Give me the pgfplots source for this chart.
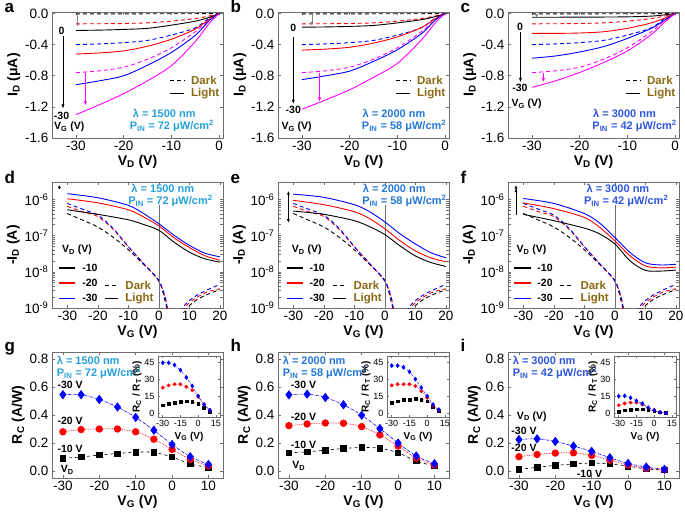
\documentclass[border=0pt]{standalone}
\usepackage{fontspec}
\setmainfont{Liberation Sans}
\usepackage{pgfplots}
\usepackage{pgfplotstable}
\pgfplotsset{compat=1.18}
\usetikzlibrary{arrows.meta}

\definecolor{lamA}{RGB}{38,160,218}
\definecolor{lamB}{RGB}{35,120,215}
\definecolor{lamC}{RGB}{45,85,220}
\definecolor{gold}{RGB}{139,105,20}
\definecolor{frame}{RGB}{110,110,110}
\definecolor{magen}{RGB}{255,0,255}

% ---------- data ----------
\pgfplotstableread{
V k r b m
-30 -0.004 -0.132 -0.400 -0.760
-25 -0.004 -0.131 -0.390 -0.736
-20 -0.004 -0.128 -0.374 -0.690
-15 -0.003 -0.119 -0.345 -0.587
-10 -0.003 -0.098 -0.277 -0.440
-5 -0.002 -0.064 -0.183 -0.234
-2 -0.001 -0.030 -0.055 -0.077
0 0 0 0 0
}\darkout
\pgfplotstableread{
V k r b m
-30 -0.217 -0.520 -0.915 -1.300
-25 -0.213 -0.506 -0.864 -1.170
-20 -0.204 -0.480 -0.800 -1.030
-15 -0.190 -0.420 -0.664 -0.864
-10 -0.149 -0.330 -0.500 -0.670
-5 -0.098 -0.200 -0.280 -0.360
-2 -0.047 -0.070 -0.085 -0.120
0 0 0 0 0
}\lightA
\pgfplotstableread{
V k r b m
-30 -0.175 -0.470 -0.850 -1.230
-25 -0.172 -0.457 -0.800 -1.110
-20 -0.165 -0.433 -0.740 -0.980
-15 -0.153 -0.380 -0.615 -0.820
-10 -0.120 -0.300 -0.465 -0.640
-5 -0.079 -0.180 -0.260 -0.340
-2 -0.038 -0.063 -0.079 -0.114
0 0 0 0 0
}\lightB
\pgfplotstableread{
V k r b m
-30 -0.047 -0.255 -0.574 -0.950
-25 -0.047 -0.255 -0.545 -0.864
-20 -0.046 -0.250 -0.494 -0.757
-15 -0.045 -0.234 -0.425 -0.630
-10 -0.042 -0.190 -0.320 -0.480
-5 -0.033 -0.120 -0.190 -0.270
-2 -0.015 -0.055 -0.077 -0.100
0 0 0 0 0
}\lightC
\pgfplotstableread{
V k r b
-30 4.1e-7 6.5e-7 7.8e-7
-25 2.7e-7 4.6e-7 5.4e-7
-20 1.74e-7 3.4e-7 3.7e-7
-15 9.1e-8 1.5e-7 1.6e-7
-10 4.1e-8 4.9e-8 5.0e-8
-5 1.6e-8 1.7e-8 1.7e-8
0 5.8e-9 5.5e-9 5.6e-9
2 1.6e-9 2.0e-9 2.1e-9
3 7e-10 8e-10 8e-10
4 4e-10 5e-10 5e-10
}\darktr
\pgfplotstableread{
V k r b
-30 5.2e-7 1.05e-6 1.45e-6
-20 3.9e-7 8.1e-7 1.12e-6
-10 2.75e-7 5.2e-7 6.9e-7
-5 2.04e-7 3.3e-7 4.1e-7
0 1.41e-7 1.86e-7 2.14e-7
5 6.6e-8 8.7e-8 1.02e-7
10 3.5e-8 4.7e-8 5.4e-8
15 2.3e-8 2.8e-8 3.3e-8
20 1.86e-8 2.1e-8 2.6e-8
}\trD
\pgfplotstableread{
V k r b
-30 4.8e-7 9.5e-7 1.41e-6
-20 3.9e-7 7.2e-7 1.15e-6
-10 2.6e-7 4.6e-7 7.2e-7
-5 1.78e-7 2.95e-7 4.6e-7
0 1.07e-7 1.55e-7 2.4e-7
5 5.2e-8 7.2e-8 1.12e-7
10 2.75e-8 3.8e-8 5.9e-8
15 1.82e-8 2.45e-8 3.4e-8
20 1.41e-8 1.9e-8 2.45e-8
}\trE
\pgfplotstableread{
V k r b
-30 3.9e-7 8.1e-7 1.07e-6
-20 2.6e-7 5.6e-7 7.8e-7
-10 1.62e-7 3.2e-7 4.1e-7
-5 1.12e-7 1.7e-7 2.24e-7
0 5.9e-8 7.2e-8 8.9e-8
5 2.0e-8 2.75e-8 3.4e-8
10 1.1e-8 1.45e-8 1.78e-8
15 1.05e-8 1.29e-8 1.55e-8
20 1.12e-8 1.35e-8 1.62e-8
}\trF
\pgfplotstableread{
V k r b
-30 0.090 0.280 0.545
-25 0.100 0.296 0.545
-20 0.114 0.300 0.511
-15 0.125 0.300 0.457
-10 0.135 0.280 0.383
-5 0.133 0.227 0.291
0 0.100 0.154 0.189
5 0.050 0.083 0.102
10 0.026 0.036 0.047
}\rcG
\pgfplotstableread{
V k r b
-30 0.130 0.324 0.544
-25 0.137 0.336 0.549
-20 0.149 0.343 0.525
-15 0.161 0.341 0.473
-10 0.168 0.317 0.398
-5 0.163 0.258 0.303
0 0.130 0.178 0.200
5 0.071 0.092 0.107
10 0.036 0.043 0.052
}\rcH
\pgfplotstableread{
V k r b
-30 0.012 0.102 0.225
-25 0.026 0.118 0.230
-20 0.040 0.128 0.211
-15 0.050 0.130 0.178
-10 0.057 0.111 0.140
-5 0.050 0.078 0.095
0 0.035 0.043 0.054
5 0.014 0.019 0.028
10 0.007 0.010 0.012
}\rcI
\pgfplotstableread{
V k r b
-30 7.5 23 45
-25 8.5 25 45
-20 9.5 26 43
-15 10.5 26 38.5
-10 11 23.7 32
-5 10.5 20.7 24.5
0 9 14.8 15.6
5 5 8.3 8
10 2 3 3
}\inG
\pgfplotstableread{
V k r b
-30 9.5 25 42.5
-25 11 26 42.5
-20 12 26 41
-15 12.5 26 37
-10 13 24.5 30.5
-5 12.5 20 23
0 11 14 15.5
5 6 7 8
10 2.5 3 3.5
}\inH
\pgfplotstableread{
V k r b
-30 2 7.4 15.4
-25 3 8.9 15.7
-20 3.6 9.8 14
-15 3.9 9.8 11.3
-10 3.9 8 8.9
-5 3.3 5 5.3
0 2.4 3 3
5 1.2 1.2 1.2
10 0.6 0.6 0.6
}\inI

% ---------- styles ----------
\tikzset{
  ann/.style={font=\bfseries\fontsize{10.5}{11}\selectfont},
  lam/.style={font=\bfseries\fontsize{11}{12}\selectfont, inner sep=1pt},
  lg/.style={font=\bfseries\fontsize{11.5}{12}\selectfont, text=gold, anchor=west},
  pl/.style={font=\bfseries\fontsize{17}{18}\selectfont, anchor=base west},
}
\pgfplotsset{
  base/.style={scale only axis, axis line style={frame, line width=0.8pt},
    tick style={frame, line width=0.6pt}, major tick length=3pt,
    tick label style={font=\fontsize{13.5}{14}\selectfont},
    label style={font=\bfseries\fontsize{14}{15}\selectfont},
    /pgf/number format/assume math mode=true, anchor=south west},
  rowA/.style={base, width=171pt, height=126pt, xmin=-35, xmax=0.8, ymin=-1.6, ymax=0.02,
    xtick={-30,-20,-10,0}, ytick={-1.6,-1.2,-0.8,-0.4,0},
    yticklabel style={/pgf/number format/fixed, /pgf/number format/fixed zerofill, /pgf/number format/precision=1},
    xlabel={V\textsubscript{D} (V)}, ylabel={I\textsubscript{D} (μA)},
    xlabel style={yshift=3pt}, ylabel style={yshift=-2pt}},
  rowB/.style={base, width=171pt, height=126pt, xmin=-35, xmax=21, ymin=1e-9, ymax=3.05e-6,
    xtick={-30,-20,-10,0,10,20}, ytick={1e-9,1e-8,1e-7,1e-6},
    yticklabels={10\textsuperscript{-9},10\textsuperscript{-8},10\textsuperscript{-7},10\textsuperscript{-6}},
    xlabel={V\textsubscript{G} (V)}, ylabel={-I\textsubscript{D} (A)},
    xlabel style={yshift=3pt}, ylabel style={yshift=-2pt}},
  rowC/.style={base, width=171pt, height=126pt, xmin=-33, xmax=14, ymin=-0.05, ymax=0.85,
    xtick={-30,-20,-10,0,10}, ytick={0,0.2,0.4,0.6,0.8},
    yticklabel style={/pgf/number format/fixed, /pgf/number format/fixed zerofill, /pgf/number format/precision=1},
    xlabel={V\textsubscript{G} (V)}, ylabel={R\textsubscript{C} (A/W)},
    xlabel style={yshift=3pt}, ylabel style={yshift=-2pt}},
  inset/.style={base, width=62pt, height=61pt, xmin=-34, xmax=18.5, ymin=-3, ymax=51,
    xtick={-30,-15,0,15}, ytick={0,15,30,45},
    tick label style={font=\fontsize{9}{9}\selectfont}, major tick length=2pt,
    label style={font=\bfseries\fontsize{10}{10}\selectfont},
    xlabel={V\textsubscript{G} (V)}, ylabel={R\textsubscript{C} / R\textsubscript{T} (\%)},
    xlabel style={yshift=2pt}, ylabel style={yshift=-4pt},
    axis background/.style={fill=white}},
  dk/.style={line width=0.9pt, dash pattern=on 4pt off 3pt, smooth},
  lt/.style={line width=0.9pt, smooth},
  mB/.style={blue, densely dashdotted, line width=0.6pt, smooth, mark=diamond*, mark options={solid}},
  mR/.style={red, densely dotted, line width=0.7pt, smooth, mark=*, mark options={solid}},
  mK/.style={black, dashed, line width=0.6pt, smooth, mark=square*, mark options={solid}},
}

\newcommand{\outputplots}[1]{%
  \addplot[black, dk] table[x=V,y=k]{\darkout};
  \addplot[red, dk] table[x=V,y=r]{\darkout};
  \addplot[blue, dk] table[x=V,y=b]{\darkout};
  \addplot[magen, dk] table[x=V,y=m]{\darkout};
  \addplot[black, lt] table[x=V,y=k]{#1};
  \addplot[red, lt] table[x=V,y=r]{#1};
  \addplot[blue, lt] table[x=V,y=b]{#1};
  \addplot[magen, lt] table[x=V,y=m]{#1};
  \draw[black, dash pattern=on 4pt off 3pt, line width=1pt] (axis cs:-10.3,-0.864) -- (axis cs:-7.3,-0.864);
  \draw[black, line width=1pt] (axis cs:-10.3,-1.033) -- (axis cs:-7.3,-1.033);
  \node[lg] at (axis cs:-6.6,-0.864) {Dark};
  \node[lg] at (axis cs:-6.6,-1.033) {Light};
}
\newcommand{\darktransfer}{%
  \addplot[black, dk] table[x=V,y=k]{\darktr};
  \addplot[red, dk] table[x=V,y=r]{\darktr};
  \addplot[blue, dk] table[x=V,y=b]{\darktr};
  \addplot[black, dk] coordinates {(8,5e-10)(9.3,1e-9)(12,1.6e-9)(14,2.0e-9)(17,2.6e-9)(20,3.2e-9)};
  \addplot[red, dk] coordinates {(7.5,5e-10)(8.5,1e-9)(10,1.4e-9)(13,2.1e-9)(16,2.8e-9)(20,3.4e-9)};
  \addplot[blue, dk] coordinates {(7,5e-10)(7.8,1e-9)(10,1.6e-9)(13,2.4e-9)(16,3.2e-9)(20,4.5e-9)};
  \draw[frame, line width=0.7pt] (axis cs:0,1e-9) -- (axis cs:0,7e-7);
}
\newcommand{\lighttransfer}[1]{%
  \addplot[black, lt] table[x=V,y=k]{#1};
  \addplot[red, lt] table[x=V,y=r]{#1};
  \addplot[blue, lt] table[x=V,y=b]{#1};
}
\newcommand{\trlegend}[7]{%
  \node[ann] at (axis cs:#1,4.1e-8) {V\textsubscript{D} (V)};
  \draw[black, line width=1.5pt] (axis cs:#2,1.26e-8) -- (axis cs:#3,1.26e-8);
  \draw[red, line width=1.5pt] (axis cs:#2,4.9e-9) -- (axis cs:#3,4.9e-9);
  \draw[blue, line width=1.5pt] (axis cs:#2,1.86e-9) -- (axis cs:#3,1.86e-9);
  \node[ann, anchor=west] at (axis cs:#4,1.26e-8) {-10};
  \node[ann, anchor=west] at (axis cs:#4,4.9e-9) {-20};
  \node[ann, anchor=west] at (axis cs:#4,1.86e-9) {-30};
  \draw[black, dash pattern=on 4pt off 3pt, line width=1pt] (axis cs:#5,4.2e-9) -- (axis cs:#6,4.2e-9);
  \draw[black, line width=1pt] (axis cs:#5,1.86e-9) -- (axis cs:#6,1.86e-9);
  \node[lg] at (axis cs:#7,4.2e-9) {Dark};
  \node[lg] at (axis cs:#7,1.86e-9) {Light};
}
\newcommand{\rcplots}[1]{%
  \addplot[mK, mark size=2.7pt] table[x=V,y=k]{#1};
  \addplot[mR, mark size=3.3pt] table[x=V,y=r]{#1};
  \addplot[mB, mark size=4.2pt] table[x=V,y=b]{#1};
}
\newcommand{\inplots}[1]{%
  \addplot[mK, line width=0.4pt, mark size=1.4pt] table[x=V,y=k]{#1};
  \addplot[mR, line width=0.4pt, mark size=1.7pt] table[x=V,y=r]{#1};
  \addplot[mB, line width=0.4pt, mark size=2.1pt] table[x=V,y=b]{#1};
}

\begin{document}
\begin{tikzpicture}
% ================= Row 1 =================
\begin{axis}[rowA, at={(52pt,374pt)}]
  \outputplots{\lightA}
  \draw[black, -{Latex[length=4pt,width=3pt]}] (axis cs:-32.7,-0.29) -- (axis cs:-32.7,-1.22);
  \node[ann] at (axis cs:-33,-0.22) {0};
  \node[ann] at (axis cs:-33,-1.31) {-30};
  \node[ann] at (axis cs:-31.4,-1.46) {V\textsubscript{G} (V)};
  \draw[gray, line width=0.8pt, -{Latex[length=4pt,width=3.5pt]}] (axis cs:-29.6,-0.01) -- (axis cs:-29.6,-0.17);
  \draw[magen, line width=0.8pt, -{Latex[length=4pt,width=3.5pt]}] (axis cs:-28,-0.77) -- (axis cs:-28,-1.18);
  \node[lam, text=lamA] at (axis cs:-11.5,-1.285) {λ = 1500 nm};
  \node[lam, text=lamA] at (axis cs:-9.9,-1.445) {P\textsubscript{IN} = 72 μW/cm\textsuperscript{2}};
\end{axis}
\begin{axis}[rowA, at={(278pt,374pt)}]
  \outputplots{\lightB}
  \draw[black, -{Latex[length=4pt,width=3pt]}] (axis cs:-31.8,-0.3) -- (axis cs:-31.8,-1.16);
  \node[ann] at (axis cs:-31.8,-0.18) {0};
  \node[ann] at (axis cs:-31.8,-1.24) {-30};
  \node[ann] at (axis cs:-31.1,-1.46) {V\textsubscript{G} (V)};
  \draw[gray, line width=0.8pt, -{Latex[length=4pt,width=3.5pt]}] (axis cs:-27.9,-0.01) -- (axis cs:-27.9,-0.16);
  \draw[magen, line width=0.8pt, -{Latex[length=4pt,width=3.5pt]}] (axis cs:-26.3,-0.76) -- (axis cs:-26.3,-1.13);
  \node[lam, text=lamB] at (axis cs:-10.7,-1.285) {λ = 2000 nm};
  \node[lam, text=lamB] at (axis cs:-8.6,-1.445) {P\textsubscript{IN} = 58 μW/cm\textsuperscript{2}};
\end{axis}
\begin{axis}[rowA, at={(508pt,374pt)}]
  \outputplots{\lightC}
  \draw[black, -{Latex[length=4pt,width=3pt]}] (axis cs:-32.4,-0.24) -- (axis cs:-32.4,-0.88);
  \node[ann] at (axis cs:-32.5,-0.175) {0};
  \node[ann] at (axis cs:-32.5,-0.96) {-30};
  \node[ann] at (axis cs:-31.1,-1.16) {V\textsubscript{G} (V)};
  \draw[gray, line width=0.8pt, -{Latex[length=3pt,width=3.5pt]}] (axis cs:-29,-0.005) -- (axis cs:-29,-0.05);
  \draw[magen, line width=0.8pt, -{Latex[length=4pt,width=3.5pt]}] (axis cs:-27.6,-0.77) -- (axis cs:-27.6,-0.88);
  \node[lam, text=lamC] at (axis cs:-10.6,-1.285) {λ = 3000 nm};
  \node[lam, text=lamC] at (axis cs:-8.5,-1.445) {P\textsubscript{IN} = 42 μW/cm\textsuperscript{2}};
\end{axis}
% ================= Row 2 =================
\begin{semilogyaxis}[rowB, at={(52pt,204pt)}]
  \darktransfer
  \lighttransfer{\trD}
  \trlegend{-26.8}{-32.8}{-27.4}{-26.2}{-17.6}{-13.4}{-12.1}
  \draw[black, -{Latex[length=3pt,width=3pt]}] (axis cs:-32.6,2.1e-6) -- (axis cs:-32.6,2.5e-6);
  \node[lam, text=lamA] at (axis cs:1.3,2.0e-6) {λ = 1500 nm};
  \node[lam, text=lamA] at (axis cs:3.8,9.1e-7) {P\textsubscript{IN} = 72 μW/cm\textsuperscript{2}};
\end{semilogyaxis}
\begin{semilogyaxis}[rowB, at={(278pt,204pt)}]
  \darktransfer
  \lighttransfer{\trE}
  \trlegend{-25.6}{-32.2}{-26.8}{-25.8}{-17.1}{-12.6}{-11.4}
  \draw[black, {Latex[length=3.5pt,width=3pt]}-{Latex[length=3.5pt,width=3pt]}] (axis cs:-31.6,2.3e-7) -- (axis cs:-31.6,1.7e-6);
  \node[lam, text=lamB] at (axis cs:3.1,2.0e-6) {λ = 2000 nm};
  \node[lam, text=lamB] at (axis cs:6.4,9.1e-7) {P\textsubscript{IN} = 58 μW/cm\textsuperscript{2}};
\end{semilogyaxis}
\begin{semilogyaxis}[rowB, at={(508pt,204pt)}]
  \darktransfer
  \lighttransfer{\trF}
  \trlegend{-27.3}{-32.9}{-27.5}{-26.5}{-18}{-13.7}{-12.4}
  \draw[black, -{Latex[length=3.5pt,width=3pt]Latex[length=3.5pt,width=3pt]}] (axis cs:-32.4,3.7e-7) -- (axis cs:-32.4,2.5e-6);
  \node[lam, text=lamC] at (axis cs:1,2.0e-6) {λ = 3000 nm};
  \node[lam, text=lamC] at (axis cs:3.7,9.1e-7) {P\textsubscript{IN} = 42 μW/cm\textsuperscript{2}};
\end{semilogyaxis}
% ================= Row 3 =================
\begin{axis}[rowC, at={(52pt,34pt)}]
  \rcplots{\rcG}
  \node[lam, text=lamA, anchor=west] at (axis cs:-32,0.79) {λ = 1500 nm};
  \node[lam, text=lamA, anchor=west] at (axis cs:-32,0.70) {P\textsubscript{IN} = 72 μW/cm\textsuperscript{2}};
  \node[ann] at (axis cs:-28,0.618) {-30 V};
  \node[ann] at (axis cs:-28,0.358) {-20 V};
  \node[ann] at (axis cs:-28,0.156) {-10 V};
  \node[ann] at (axis cs:-28.8,0.007) {V\textsubscript{D}};
\end{axis}
\begin{axis}[inset, at={(158pt,95pt)}]
  \inplots{\inG}
\end{axis}
\begin{axis}[rowC, at={(278pt,34pt)}]
  \rcplots{\rcH}
  \node[lam, text=lamB, anchor=west] at (axis cs:-32,0.79) {λ = 2000 nm};
  \node[lam, text=lamB, anchor=west] at (axis cs:-32,0.70) {P\textsubscript{IN} = 58 μW/cm\textsuperscript{2}};
  \node[ann] at (axis cs:-26,0.615) {-30 V};
  \node[ann] at (axis cs:-26,0.386) {-20 V};
  \node[ann] at (axis cs:-26,0.19) {-10 V};
  \node[ann] at (axis cs:-27.3,0.035) {V\textsubscript{D}};
\end{axis}
\begin{axis}[inset, at={(387pt,95pt)}]
  \inplots{\inH}
\end{axis}
\begin{axis}[rowC, at={(508pt,34pt)}]
  \rcplots{\rcI}
  \node[lam, text=lamC, anchor=west] at (axis cs:-32,0.79) {λ = 3000 nm};
  \node[lam, text=lamC, anchor=west] at (axis cs:-32,0.70) {P\textsubscript{IN} = 42 μW/cm\textsuperscript{2}};
  \node[ann, anchor=west] at (axis cs:-31.5,0.39) {V\textsubscript{D} (V)};
  \node[ann] at (axis cs:-28.6,0.29) {-30 V};
  \node[ann] at (axis cs:-28.6,0.168) {-20 V};
  \node[ann] at (axis cs:-10.6,-0.02) {-10 V};
\end{axis}
\begin{axis}[inset, at={(614pt,95pt)}]
  \inplots{\inI}
\end{axis}
% panel letters
\node[pl] at (1pt,499pt) {a};
\node[pl] at (227pt,499pt) {b};
\node[pl] at (457pt,499pt) {c};
\node[pl] at (1pt,328pt) {d};
\node[pl] at (227pt,328pt) {e};
\node[pl] at (457pt,328pt) {f};
\node[pl] at (1pt,161pt) {g};
\node[pl] at (227pt,161pt) {h};
\node[pl] at (457pt,161pt) {i};
\pgfresetboundingbox
\useasboundingbox (0,0) rectangle (685pt,512pt);
\end{tikzpicture}
\end{document}
